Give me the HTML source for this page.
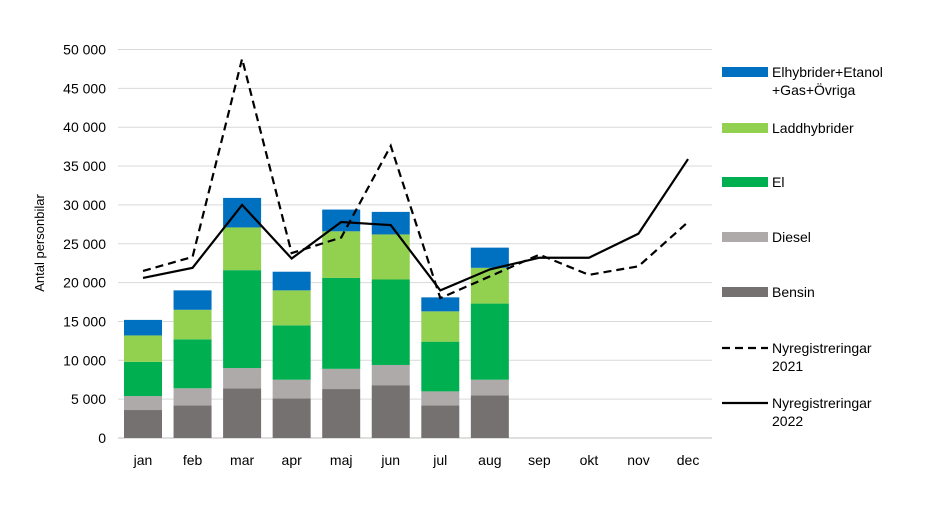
<!DOCTYPE html>
<html><head><meta charset="utf-8"><style>
body{margin:0;background:#fff;font-family:"Liberation Sans",sans-serif;}
svg text{font-family:"Liberation Sans",sans-serif;fill:#000;}
</style></head><body>
<svg id="c" width="940" height="501"></svg>
<script>
const months=["jan","feb","mar","apr","maj","jun","jul","aug","sep","okt","nov","dec"];
const bensin=[3.6,4.2,6.4,5.1,6.3,6.8,4.2,5.5];
const diesel=[1.8,2.2,2.6,2.4,2.6,2.6,1.8,2.0];
const el=[4.4,6.3,12.6,7.0,11.7,11.0,6.4,9.8];
const ladd=[3.4,3.8,5.5,4.5,6.0,5.8,3.9,4.6];
const ovr=[2.0,2.5,3.8,2.4,2.8,2.9,1.8,2.6];
const ny2021=[21.5,23.3,48.8,23.8,25.8,37.6,18.0,20.8,23.6,21.0,22.1,27.8];
const ny2022=[20.6,21.9,30.0,23.1,27.8,27.4,19.0,21.7,23.2,23.2,26.3,35.9];
const yTicks=[0,5,10,15,20,25,30,35,40,45,50];
const NS="http://www.w3.org/2000/svg",svg=document.getElementById('c');
function mk(t,a,p){const e=document.createElementNS(NS,t);for(const k in a)e.setAttribute(k,a[k]);(p||svg).appendChild(e);return e;}
const y=v=>438-v*7.77, x=i=>143+i*49.55;
yTicks.forEach(t=>{
 const l=mk('line',{x1:118,x2:712,y1:y(t),y2:y(t),stroke:t?'#d9d9d9':'#bfbfbf','stroke-width':1});
 
 
 const tx=mk('text',{x:106,y:y(t)+5,'text-anchor':'end','font-size':14});
 tx.textContent=t===0?'0':t+' 000';
 
 
});
months.forEach((m,i)=>{
 const tx=mk('text',{x:x(i),y:465,'text-anchor':'middle','font-size':14});
 tx.textContent=m;
 
 
});
const yt=mk('text',{x:0,y:0,'font-size':13,'text-anchor':'middle',transform:'translate(44,243) rotate(-90)'});
yt.textContent='Antal personbilar';


const series=[[bensin,'#767171','bensin'],[diesel,'#aeaaaa','diesel'],[el,'#00b050','el'],[ladd,'#92d050','laddhybrider'],[ovr,'#0070c0','ovriga']];
bensin.forEach((_,i)=>{
 let base=0;
 series.forEach(([arr,col,n])=>{
  const v=arr[i];
  const r=mk('rect',{x:x(i)-19,y:y(base+v),width:38,height:y(base)-y(base+v),fill:col});
  
  
  base+=v;
 });
});
function line(arr,dash,n){
 const p=mk('polyline',{points:arr.map((v,i)=>x(i)+','+y(v)).join(' '),fill:'none',stroke:'#000','stroke-width':2.2,'stroke-dasharray':dash});
 
 
}
line(ny2021,'8,5','line-nyregistreringar-2021');
line(ny2022,'none','line-nyregistreringar-2022');
const leg=[[['Elhybrider+Etanol','+Gas+Övriga'],'#0070c0',72],[['Laddhybrider'],'#92d050',128],[['El'],'#00b050',182],[['Diesel'],'#aeaaaa',237],[['Bensin'],'#767171',292]];
leg.forEach(([t,c,yy])=>{
 const g=mk('g',{});
 
 
 mk('rect',{x:722,y:yy-5,width:46,height:10,fill:c},g);
 t.forEach((s,k)=>{const tx=mk('text',{x:772,y:yy+5+k*18,'font-size':14},g);tx.textContent=s;});
});
[[['Nyregistreringar','2021'],'8,5',348],[['Nyregistreringar','2022'],'none',403]].forEach(([t,d,yy])=>{
 const g=mk('g',{});
 
 
 mk('line',{x1:722,x2:768,y1:yy,y2:yy,stroke:'#000','stroke-width':2.2,'stroke-dasharray':d},g);
 t.forEach((s,k)=>{const tx=mk('text',{x:772,y:yy+5+k*18,'font-size':14},g);tx.textContent=s;});
});
</script>
</body></html>
